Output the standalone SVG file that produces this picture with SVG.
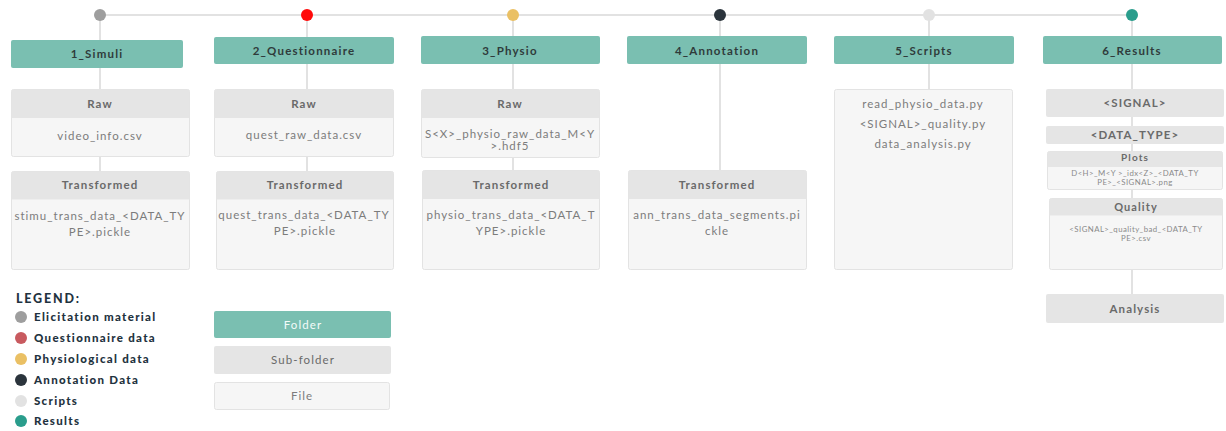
<svg xmlns="http://www.w3.org/2000/svg" width="1226" height="431" viewBox="0 0 1226 431">
  <style>
    .bg { fill: #ffffff; }
    .link { stroke: #e2e2e2; stroke-width: 2; fill: none; }
    .folder { fill: #7abfb1; }
    .sub { fill: #e5e5e5; }
    .file { fill: #f6f6f6; stroke: #e3e3e3; stroke-width: 1; }
    .ftxt { font-family: Lato, "Noto Sans", sans-serif; font-weight: bold; font-size: 11.5px; letter-spacing: 1.2px; fill: #2f3b3b; text-anchor: middle; }
    .stxt { font-family: Lato, "Noto Sans", sans-serif; font-weight: bold; font-size: 11.5px; letter-spacing: 1.1px; fill: #6a6a6a; text-anchor: middle; }
    .txt { font-family: Lato, "Noto Sans", sans-serif; font-size: 11.5px; letter-spacing: 1px; fill: #7c7c7c; text-anchor: middle; }
    .small { font-family: Lato, "Noto Sans", sans-serif; font-size: 7.8px; letter-spacing: 0.45px; fill: #8a8a8a; text-anchor: middle; }
    .legt { font-family: Lato, "Noto Sans", sans-serif; font-weight: 900; font-size: 11.5px; letter-spacing: 1.3px; fill: #1f3340; }
    .legh { font-family: Lato, "Noto Sans", sans-serif; font-weight: 900; font-size: 12.5px; letter-spacing: 1.8px; fill: #1f3340; }
  </style>
  <rect class="bg" width="1226" height="431"/>

  <!-- connectors -->
  <g id="connectors">
    <line class="link" x1="100" y1="15" x2="1132" y2="15"/>
    <line class="link" x1="100" y1="15" x2="100" y2="171"/>
    <line class="link" x1="307" y1="15" x2="307" y2="171"/>
    <line class="link" x1="513" y1="15" x2="513" y2="170"/>
    <line class="link" x1="720" y1="15" x2="720" y2="170"/>
    <line class="link" x1="929" y1="15" x2="929" y2="89"/>
    <line class="link" x1="1132" y1="15" x2="1132" y2="294"/>
  </g>

  <!-- timeline dots -->
  <g id="dots">
    <circle cx="100" cy="15" r="6" fill="#9e9e9e"/>
    <circle cx="307" cy="15" r="6" fill="#ff0a0a"/>
    <circle cx="513" cy="15" r="6" fill="#eac064"/>
    <circle cx="720" cy="15" r="6" fill="#2b343c"/>
    <circle cx="929" cy="15" r="6" fill="#e2e2e2"/>
    <circle cx="1132" cy="15" r="6" fill="#2a9d8c"/>
  </g>

  <!-- column 1 -->
  <g id="simuli">
    <rect class="folder" x="11" y="40" width="172" height="28" rx="2"/>
    <text class="ftxt" x="97" y="58">1_Simuli</text>
  </g>
  <g id="simuli-raw">
    <rect class="file" x="11.5" y="89.5" width="178" height="67" rx="2"/>
    <path class="sub" d="M13.5 89.5 h174 a2 2 0 0 1 2 2 v26.5 h-178 v-26.5 a2 2 0 0 1 2 -2 z"/>
    <text class="stxt" x="100" y="108">Raw</text>
    <text class="txt" x="100" y="140">video_info.csv</text>
  </g>
  <g id="simuli-transformed">
    <rect class="file" x="11.5" y="171.5" width="178" height="98" rx="2"/>
    <path class="sub" d="M13.5 171.5 h174 a2 2 0 0 1 2 2 v26 h-178 v-26 a2 2 0 0 1 2 -2 z"/>
    <text class="stxt" x="100" y="189">Transformed</text>
    <text class="txt" x="100" y="220">stimu_trans_data_&lt;DATA_TY</text>
    <text class="txt" x="100" y="236">PE&gt;.pickle</text>
  </g>

  <!-- column 2 -->
  <g id="questionnaire">
    <rect class="folder" x="214" y="37" width="180" height="27" rx="2"/>
    <text class="ftxt" x="304" y="55">2_Questionnaire</text>
  </g>
  <g id="questionnaire-raw">
    <rect class="file" x="214.5" y="89.5" width="179" height="67" rx="2"/>
    <path class="sub" d="M216.5 89.5 h175 a2 2 0 0 1 2 2 v26.5 h-179 v-26.5 a2 2 0 0 1 2 -2 z"/>
    <text class="stxt" x="304" y="108">Raw</text>
    <text class="txt" x="304" y="139">quest_raw_data.csv</text>
  </g>
  <g id="questionnaire-transformed">
    <rect class="file" x="216.5" y="171.5" width="177" height="98" rx="2"/>
    <path class="sub" d="M218.5 171.5 h173 a2 2 0 0 1 2 2 v26 h-177 v-26 a2 2 0 0 1 2 -2 z"/>
    <text class="stxt" x="305" y="189">Transformed</text>
    <text class="txt" x="304" y="219">quest_trans_data_&lt;DATA_TY</text>
    <text class="txt" x="305" y="235">PE&gt;.pickle</text>
  </g>

  <!-- column 3 -->
  <g id="physio">
    <rect class="folder" x="421" y="36" width="179" height="28" rx="2"/>
    <text class="ftxt" x="510" y="55">3_Physio</text>
  </g>
  <g id="physio-raw">
    <rect class="file" x="421.5" y="89.5" width="178" height="68" rx="2"/>
    <path class="sub" d="M423.5 89.5 h174 a2 2 0 0 1 2 2 v26.5 h-178 v-26.5 a2 2 0 0 1 2 -2 z"/>
    <text class="stxt" x="510" y="108">Raw</text>
    <text class="txt" x="510" y="138">S&lt;X&gt;_physio_raw_data_M&lt;Y</text>
    <text class="txt" x="510" y="150">&gt;.hdf5</text>
  </g>
  <g id="physio-transformed">
    <rect class="file" x="422.5" y="170.5" width="177" height="99" rx="2"/>
    <path class="sub" d="M424.5 170.5 h173 a2 2 0 0 1 2 2 v26.5 h-177 v-26.5 a2 2 0 0 1 2 -2 z"/>
    <text class="stxt" x="511" y="189">Transformed</text>
    <text class="txt" x="511" y="219">physio_trans_data_&lt;DATA_T</text>
    <text class="txt" x="511" y="235">YPE&gt;.pickle</text>
  </g>

  <!-- column 4 -->
  <g id="annotation">
    <rect class="folder" x="627" y="36" width="180" height="28" rx="2"/>
    <text class="ftxt" x="717" y="55">4_Annotation</text>
  </g>
  <g id="annotation-transformed">
    <rect class="file" x="628.5" y="170.5" width="178" height="99" rx="2"/>
    <path class="sub" d="M630.5 170.5 h174 a2 2 0 0 1 2 2 v26.5 h-178 v-26.5 a2 2 0 0 1 2 -2 z"/>
    <text class="stxt" x="717" y="189">Transformed</text>
    <text class="txt" x="717" y="219">ann_trans_data_segments.pi</text>
    <text class="txt" x="717" y="235">ckle</text>
  </g>

  <!-- column 5 -->
  <g id="scripts">
    <rect class="folder" x="834" y="36" width="180" height="28" rx="2"/>
    <text class="ftxt" x="924" y="55">5_Scripts</text>
  </g>
  <g id="scripts-files">
    <rect class="file" x="834.5" y="89.5" width="178" height="180" rx="2"/>
    <text class="txt" x="923" y="108">read_physio_data.py</text>
    <text class="txt" x="923" y="128">&lt;SIGNAL&gt;_quality.py</text>
    <text class="txt" x="923" y="148">data_analysis.py</text>
  </g>

  <!-- column 6 -->
  <g id="results">
    <rect class="folder" x="1043" y="36" width="179" height="28" rx="2"/>
    <text class="ftxt" x="1132" y="55">6_Results</text>
  </g>
  <g id="results-signal">
    <rect class="sub" x="1046" y="89" width="178" height="28" rx="2"/>
    <text class="stxt" x="1135" y="107">&lt;SIGNAL&gt;</text>
  </g>
  <g id="results-datatype">
    <rect class="sub" x="1046" y="126" width="178" height="18" rx="2"/>
    <text class="stxt" x="1135" y="139">&lt;DATA_TYPE&gt;</text>
  </g>
  <g id="results-plots">
    <rect class="file" x="1047.5" y="151.5" width="175" height="38" rx="2"/>
    <path class="sub" d="M1049.5 151.5 h171 a2 2 0 0 1 2 2 v13.5 h-175 v-13.5 a2 2 0 0 1 2 -2 z"/>
    <text class="stxt" x="1135" y="161" style="font-size:10px">Plots</text>
    <text class="small" x="1135" y="176">D&lt;H&gt;_M&lt;Y &gt;_idx&lt;Z&gt;_&lt;DATA_TY</text>
    <text class="small" x="1135" y="185">PE&gt;_&lt;SIGNAL&gt;.png</text>
  </g>
  <g id="results-quality">
    <rect class="file" x="1049.5" y="198.5" width="173" height="71" rx="2"/>
    <path class="sub" d="M1051.5 198.5 h169 a2 2 0 0 1 2 2 v15 h-173 v-15 a2 2 0 0 1 2 -2 z"/>
    <text class="stxt" x="1136" y="211" style="font-size:11px">Quality</text>
    <text class="small" x="1136" y="232">&lt;SIGNAL&gt;_quality_bad_&lt;DATA_TY</text>
    <text class="small" x="1136" y="241">PE&gt;.csv</text>
  </g>
  <g id="results-analysis">
    <rect class="sub" x="1046" y="294" width="178" height="29" rx="2"/>
    <text class="stxt" x="1135" y="313">Analysis</text>
  </g>

  <!-- legend -->
  <g id="legend">
    <text class="legh" x="16" y="303">LEGEND:</text>
    <circle cx="21" cy="317" r="6" fill="#9e9e9e"/>
    <text class="legt" x="34" y="321">Elicitation material</text>
    <circle cx="21" cy="338" r="6" fill="#c85a5f"/>
    <text class="legt" x="34" y="342">Questionnaire data</text>
    <circle cx="21" cy="359" r="6" fill="#eac064"/>
    <text class="legt" x="34" y="363">Physiological data</text>
    <circle cx="21" cy="380" r="6" fill="#2b343c"/>
    <text class="legt" x="34" y="384">Annotation Data</text>
    <circle cx="21" cy="401" r="6" fill="#e2e2e2"/>
    <text class="legt" x="34" y="405">Scripts</text>
    <circle cx="21" cy="421" r="6" fill="#2a9d8c"/>
    <text class="legt" x="34" y="425">Results</text>
  </g>
  <g id="legend-folder">
    <rect class="folder" x="214" y="311" width="177" height="27" rx="2"/>
    <text class="stxt" x="303" y="329" style="fill:#f4fbf9;font-weight:normal">Folder</text>
  </g>
  <g id="legend-subfolder">
    <rect class="sub" x="214" y="346" width="177" height="28" rx="2"/>
    <text class="stxt" x="303" y="364" style="font-weight:normal">Sub-folder</text>
  </g>
  <g id="legend-file">
    <rect class="file" x="214.5" y="382.5" width="175" height="27" rx="2"/>
    <text class="txt" x="302" y="400">File</text>
  </g>
</svg>
